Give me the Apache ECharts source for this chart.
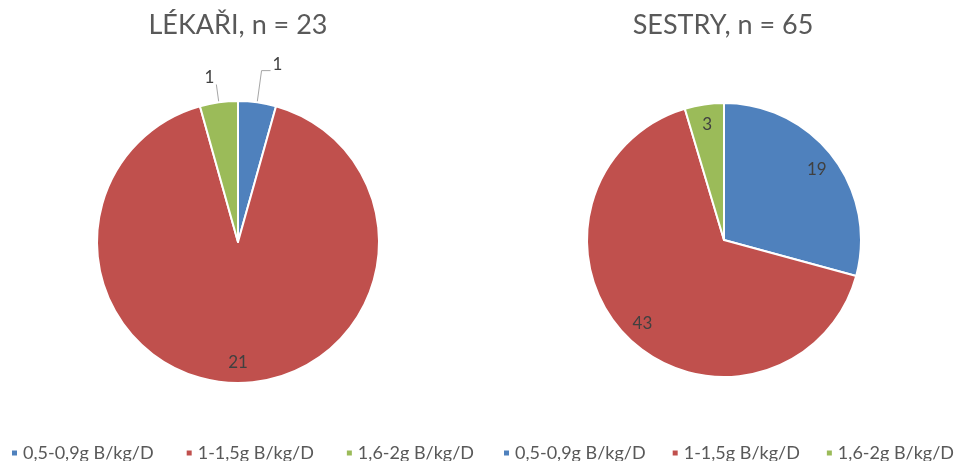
<!DOCTYPE html>
<html>
<head>
<meta charset="utf-8">
<script src="https://cdn.jsdelivr.net/npm/echarts@6/dist/echarts.min.js"></script>
<style>
  html, body { margin: 0; padding: 0; background: #ffffff; }
  #chart { width: 958px; height: 461px; }
</style>
</head>
<body>
<div id="chart"></div>
<script>
// Protein intake groups (g bílkovin / kg / den)
const categories = ['0,5-0,9g B/kg/D', '1-1,5g B/kg/D', '1,6-2g B/kg/D'];
const lekariValues = [1, 21, 1];
const sestryValues = [19, 43, 3];
const chartTitles = ['LÉKAŘI, n = 23', 'SESTRY, n = 65'];
// slices whose value sits outside the pie on a leader line
const lekariOutside = [true, false, true];
const sestryOutside = [false, false, false];

const palette = ['#4F81BD', '#C0504D', '#9BBB59'];
const FONT = 'Lato';
const TEXT = '#595959';
const LABEL = '#404040';

// leader line shape for the outside labels: [radial length, horizontal length]
const leader = [[32, 9], null, [18, 0]];

function pieData(values, outside) {
  return values.map((v, i) => {
    const item = { name: categories[i], value: v, itemStyle: { color: palette[i] } };
    if (outside[i]) {
      // a blank second line lifts the value above the end of its leader line
      item.label = { show: true, position: 'outside', formatter: '{c}\n ', lineHeight: 13 };
      item.labelLine = { show: true, length: leader[i][0], length2: leader[i][1] };
    } else {
      item.label = { show: false };
      item.labelLine = { show: false };
    }
    return item;
  });
}

// transparent ring that carries the inside labels near the rim
function labelRing(values, outside) {
  return values.map((v, i) => ({
    name: categories[i],
    value: v,
    label: { show: !outside[i] }
  }));
}

function pieSeries(center, radius, values, outside) {
  return [
    {
      type: 'pie',
      center: center,
      radius: radius,
      startAngle: 90,
      clockwise: true,
      avoidLabelOverlap: false,
      itemStyle: { borderColor: '#ffffff', borderWidth: 2 },
      label: {
        color: LABEL, fontFamily: FONT, fontSize: 17,
        formatter: '{c}', distanceToLabelLine: 2
      },
      labelLine: { lineStyle: { color: '#A6A6A6', width: 1 }, smooth: false },
      emphasis: { disabled: true },
      data: pieData(values, outside)
    },
    {
      type: 'pie',
      center: center,
      radius: [radius * 0.66, radius],
      startAngle: 90,
      clockwise: true,
      silent: true,
      avoidLabelOverlap: false,
      itemStyle: { color: 'rgba(0,0,0,0)' },
      label: {
        position: 'inside', color: LABEL, fontFamily: FONT, fontSize: 17,
        formatter: '{c}'
      },
      labelLine: { show: false },
      emphasis: { disabled: true },
      data: labelRing(values, outside)
    }
  ];
}

const legendBase = {
  orient: 'horizontal',
  top: 444,
  width: 470,
  icon: 'rect',
  itemWidth: 7,
  itemHeight: 7,
  padding: 0,
  data: categories,
  textStyle: { color: TEXT, fontFamily: FONT, fontSize: 18, padding: [0, 0, 0, 0] }
};

const chart = echarts.init(document.getElementById('chart'), null, { renderer: 'canvas' });
chart.setOption({
  animation: false,
  backgroundColor: '#ffffff',
  title: [
    {
      text: chartTitles[0], left: 238, top: 12, textAlign: 'center', padding: 0,
      textStyle: { color: TEXT, fontFamily: FONT, fontSize: 27, fontWeight: 'normal' }
    },
    {
      text: chartTitles[1], left: 723, top: 12, textAlign: 'center', padding: 0,
      textStyle: { color: TEXT, fontFamily: FONT, fontSize: 27, fontWeight: 'normal' }
    }
  ],
  legend: [
    Object.assign({}, legendBase, { left: 10, itemGap: 31 }),
    Object.assign({}, legendBase, { left: 502, itemGap: 25 })
  ],
  series: [].concat(
    pieSeries([238, 242], 141, lekariValues, lekariOutside),
    pieSeries([724, 240], 137, sestryValues, sestryOutside)
  )
});
</script>
</body>
</html>
